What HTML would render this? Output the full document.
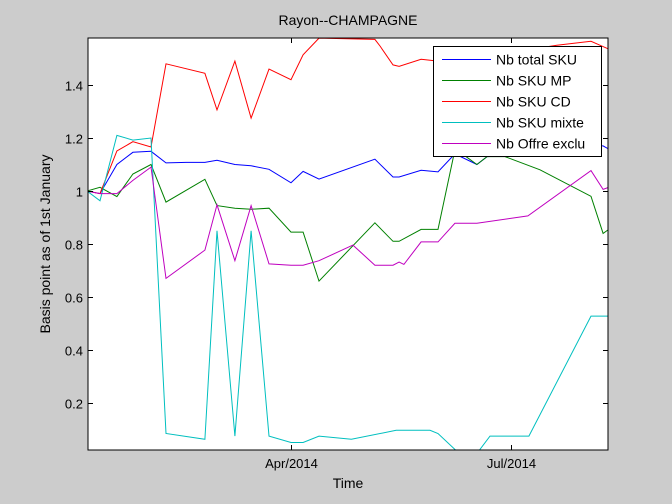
<!DOCTYPE html>
<html><head><meta charset="utf-8"><style>
body{margin:0;background:#cccccc;}
svg{display:block;font-family:"Liberation Sans",Arial,sans-serif;}
</style></head><body>
<svg id="chart" width="672" height="504" viewBox="0 0 672 504" xmlns="http://www.w3.org/2000/svg">
<rect x="0" y="0" width="672" height="504" fill="#cccccc"/>
<defs><clipPath id="plotclip"><rect x="88" y="38" width="520" height="412"/></clipPath></defs>
<rect x="88" y="38" width="520" height="412" fill="#ffffff"/>
<g id="series" clip-path="url(#plotclip)"></g>
<g id="axes"></g>
<text x="348" y="25" font-size="14" text-anchor="middle">Rayon--CHAMPAGNE</text>
<text x="348" y="488" font-size="14" text-anchor="middle">Time</text>
<text x="0" y="0" font-size="14" text-anchor="middle" transform="translate(50,244) rotate(-90)">Basis point as of 1st January</text>
<g id="legend"></g>
</svg>
<script>
const xTickDays = [90, 181];
const xTickLabels = ["Apr/2014", "Jul/2014"];
const yTicks = [0.2, 0.4, 0.6, 0.8, 1, 1.2, 1.4];
const yTickLabels = ["0.2", "0.4", "0.6", "0.8", "1", "1.2", "1.4"];
const seriesNames = ["Nb total SKU", "Nb SKU MP", "Nb SKU CD", "Nb SKU mixte", "Nb Offre exclu"];
const seriesColors = ["#0000ff", "#008000", "#ff0000", "#00bfbf", "#bf00bf"];

const totalDays = [5.6,11,18,24.6,32.1,38.3,46.6,54.4,59.4,66.8,73.5,80.9,90,95,101.6,124.7,132.2,134.7,143.8,150.8,157.8,166.9,171.1,193,214.1,219.1,221.1];
const totalVals = [1.0,0.99,1.10,1.146,1.15,1.106,1.108,1.108,1.116,1.10,1.095,1.082,1.031,1.074,1.045,1.12,1.053,1.053,1.078,1.072,1.14,1.10,1.13,1.14,1.17,1.17,1.16];

const mpDays = [5.6,11,18,24.6,32.1,38.3,54.4,59.4,66.8,73.5,80.9,90,95,101.6,124.7,132.2,134.7,143.8,150.8,157.8,162.4,166.9,171.1,178.5,193,214.1,219.1,221.1];
const mpVals = [1.0,1.014,0.979,1.064,1.10,0.958,1.044,0.945,0.935,0.931,0.935,0.845,0.845,0.66,0.88,0.81,0.81,0.855,0.855,1.155,1.13,1.10,1.13,1.13,1.08,0.98,0.84,0.853];

const cdDays = [5.6,11,18,24.6,32.1,38.3,54.4,59.4,66.8,73.5,80.9,90,95,101.6,111.1,124.7,126.8,132.2,134.7,143.8,150.8,157.8,166.9,178.5,193,200,214.1,221.1];
const cdVals = [1.0,0.99,1.151,1.186,1.166,1.48,1.444,1.306,1.49,1.275,1.46,1.42,1.514,1.577,1.575,1.572,1.547,1.476,1.47,1.497,1.49,1.49,1.50,1.52,1.54,1.55,1.565,1.537];

const mixDays = [5.6,11,18,24.6,32.1,38.3,54.4,59.4,66.8,73.5,80.9,90,95,101.6,115,133.5,147.5,150.8,160.7,166.1,172.3,188.4,214.1,221.1];
const mixVals = [1.0,0.963,1.21,1.192,1.20,0.085,0.063,0.85,0.075,0.85,0.075,0.051,0.051,0.075,0.063,0.097,0.097,0.085,0.0,0.0,0.075,0.075,0.528,0.528];

const exDays = [5.6,11,18,24.6,32.1,38.3,54.4,59.4,66.8,73.5,80.9,90,95,101.6,115.6,124.7,132.2,134.7,136.7,143.8,150.8,157.8,166.9,188,214.1,219.1,221.1];
const exVals = [1.0,0.99,0.99,1.04,1.09,0.67,0.777,0.948,0.737,0.945,0.725,0.72,0.72,0.737,0.796,0.72,0.72,0.732,0.723,0.808,0.808,0.878,0.878,0.906,1.077,1.006,1.013];

const NS = "http://www.w3.org/2000/svg";
const X0 = 88, X1 = 608, Y0 = 38, Y1 = 450;
function xScale(d){ return 291 + (d - 90) * (220 / 91); }
function yScale(v){ return 403 - (v - 0.2) * 265; }

const seriesG = document.getElementById("series");
const allDays = [totalDays, mpDays, cdDays, mixDays, exDays];
const allVals = [totalVals, mpVals, cdVals, mixVals, exVals];
const seriesKeys = ["total-sku", "sku-mp", "sku-cd", "sku-mixte", "offre-exclu"];
for (let s = 0; s < 5; s++) {
  const pts = allDays[s].map((d, i) => xScale(d).toFixed(1) + "," + yScale(allVals[s][i]).toFixed(1)).join(" ");
  const pl = document.createElementNS(NS, "polyline");
  pl.setAttribute("points", pts);
  pl.setAttribute("fill", "none");
  pl.setAttribute("stroke", seriesColors[s]);
  pl.setAttribute("stroke-width", "1");
  
  
  seriesG.appendChild(pl);
}

const axes = document.getElementById("axes");
const frame = document.createElementNS(NS, "rect");
frame.setAttribute("x", X0); frame.setAttribute("y", Y0);
frame.setAttribute("width", X1 - X0); frame.setAttribute("height", Y1 - Y0);
frame.setAttribute("fill", "none"); frame.setAttribute("stroke", "#000");


axes.appendChild(frame);

function line(x1,y1,x2,y2,name){
  const l = document.createElementNS(NS, "line");
  l.setAttribute("x1",x1); l.setAttribute("y1",y1); l.setAttribute("x2",x2); l.setAttribute("y2",y2);
  l.setAttribute("stroke","#000");
  
  
  axes.appendChild(l);
}
yTicks.forEach((v, i) => {
  const y = Math.round(yScale(v)) + 0.5;
  line(X0, y, X0 + 5, y, 'y-tick');
  line(X1, y, X1 - 5, y, 'y-tick-right');
  const t = document.createElementNS(NS, "text");
  t.setAttribute("x", X0 - 5); t.setAttribute("y", y + 5);
  t.setAttribute("font-size", "13"); t.setAttribute("text-anchor", "end");
  t.textContent = yTickLabels[i];
  
  
  axes.appendChild(t);
});
xTickDays.forEach((d, i) => {
  const x = Math.round(xScale(d)) + 0.5;
  line(x, Y1, x, Y1 - 5, 'x-tick');
  line(x, Y0, x, Y0 + 5, 'x-tick-top');
  const t = document.createElementNS(NS, "text");
  t.setAttribute("x", x); t.setAttribute("y", Y1 + 18);
  t.setAttribute("font-size", "13"); t.setAttribute("text-anchor", "middle");
  t.textContent = xTickLabels[i];
  
  
  axes.appendChild(t);
});

const lg = document.getElementById("legend");
const box = document.createElementNS(NS, "rect");
box.setAttribute("x", 433.5); box.setAttribute("y", 46.5);
box.setAttribute("width", 168); box.setAttribute("height", 110);
box.setAttribute("fill", "#fff"); box.setAttribute("stroke", "#000");


lg.appendChild(box);
seriesNames.forEach((n, i) => {
  const y = 59.5 + i * 21;
  const l = document.createElementNS(NS, "line");
  l.setAttribute("x1", 442); l.setAttribute("x2", 491); l.setAttribute("y1", y); l.setAttribute("y2", y);
  l.setAttribute("stroke", seriesColors[i]);
  
  
  lg.appendChild(l);
  const t = document.createElementNS(NS, "text");
  t.setAttribute("x", 496); t.setAttribute("y", y + 5);
  t.setAttribute("font-size", "14");
  t.textContent = n;
  
  
  lg.appendChild(t);
});
</script>
</body></html>
